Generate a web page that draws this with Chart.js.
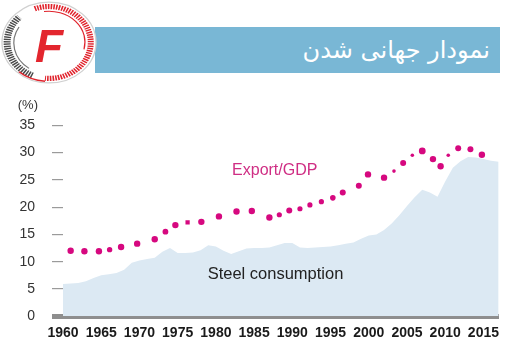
<!DOCTYPE html>
<html>
<head>
<meta charset="utf-8">
<script src="https://cdn.jsdelivr.net/npm/chart.js@4.4.1/dist/chart.umd.min.js"></script>
<style>
  html, body { margin: 0; padding: 0; background: #ffffff; }
  #wrap { position: relative; width: 513px; height: 363px; overflow: hidden; }
  #c { position: absolute; left: 0; top: 0; }
  #banner { position: absolute; left: 95px; top: 27px; width: 405px; height: 46px; background: #79b7d5; }
  #title { position: absolute; right: 23px; top: 27px; height: 46px; line-height: 46px; color: #ffffff;
           font-family: "DejaVu Sans", sans-serif; font-size: 24px; direction: rtl; white-space: nowrap; }
  #logo { position: absolute; left: 0; top: 0; }
</style>
</head>
<body>
<div id="wrap">
  <canvas id="c" width="513" height="363"></canvas>
  <div id="banner"></div>
  <div id="title">نمودار جهانی شدن</div>
  <svg id="logo" width="100" height="86" viewBox="0 0 100 86">
    <g transform="translate(49,42.5) scale(1,0.86)">
      <circle cx="0" cy="0" r="47" fill="#ffffff" stroke="#d0d0d0" stroke-width="1.3"/>
      <path d="M -16.6 38.4 A 41.8 41.8 0 0 1 -29.6 -29.6" fill="none" stroke="#4a4a4a" stroke-width="7" stroke-dasharray="1.6 1.1"/>
      <path d="M -14.3 -39.3 A 41.8 41.8 0 1 1 -4 41.6" fill="none" stroke="#e0232c" stroke-width="6" stroke-dasharray="1.6 1.1"/>
      <path d="M -4 45 A 45 45 0 0 1 -30 34" fill="none" stroke="#e0232c" stroke-width="1.6"/>
      <path d="M -20 30 A 36 36 0 0 1 -30 -18" fill="none" stroke="#777777" stroke-width="1.2"/>
      <path d="M -5 -36 A 36 36 0 0 1 35 8" fill="none" stroke="#e0232c" stroke-width="1.2"/>
    </g>
    <text x="49" y="62" text-anchor="middle" font-family="Liberation Sans, Arial, sans-serif" font-weight="bold" font-style="italic" font-size="46" fill="#e3262e">F</text>
  </svg>
</div>
<script>
// ---- data ----
const xTickLabels = [1960, 1965, 1970, 1975, 1980, 1985, 1990, 1995, 2000, 2005, 2010, 2015];
const yTickLabels = [0, 5, 10, 15, 20, 25, 30, 35];

const steelYears = [1960,1961,1962,1963,1964,1965,1966,1967,1968,1969,1970,1971,1972,1973,1974,1975,1976,1977,1978,1979,
  1980,1981,1982,1983,1984,1985,1986,1987,1988,1989,1990,1991,1992,1993,1994,1995,1996,1997,1998,1999,
  2000,2001,2002,2003,2004,2005,2006,2007,2008,2009,2010,2011,2012,2013,2014,2015,2016,2017];
const steelConsumption = [5.9,6.0,6.1,6.4,7.0,7.5,7.7,7.9,8.5,9.8,10.2,10.5,10.7,11.8,12.5,11.6,11.6,11.7,12.1,13.0,
  12.8,12.0,11.4,11.9,12.4,12.5,12.5,12.6,13.0,13.4,13.4,12.6,12.5,12.6,12.7,12.8,13.0,13.3,13.5,14.2,
  14.8,15.0,15.8,17.0,18.5,20.2,21.8,23.2,22.7,21.9,24.7,27.2,28.4,29.2,29.1,28.8,28.5,28.3];

const exportYears = [1961.0,1962.8,1964.7,1966.1,1967.6,1969.7,1972.0,1973.4,1974.7,1976.3,1978.1,1980.4,1982.7,1984.7,
  1987.0,1988.3,1989.6,1991.0,1992.3,1993.8,1995.3,1996.6,1998.7,1999.9,2002.0,2003.3,2004.5,2005.7,2007.0,2008.4,
  2009.4,2010.4,2011.7,2013.3,2014.8];
const exportGDP = [12.0,11.9,11.9,12.2,12.7,13.3,14.1,15.5,16.7,17.2,17.3,18.3,19.2,19.3,
  18.1,18.6,19.4,19.7,20.4,21.0,21.7,22.7,23.9,26.0,25.4,26.6,28.1,29.5,30.3,28.8,
  27.5,29.5,30.8,30.6,29.6];

// styling (not data)
const dotRadius = [3.2,3.2,3.2,2.7,3.2,3.2,3.2,2.9,3.2,3,3.2,3.2,3.2,3.2,
  3.2,2.6,3,2.6,2.6,2.6,2.8,3,3,3.2,3.2,1.8,3,1.8,3.4,3.2,
  3.2,1.8,3,3,3.2];
const dotStyle = exportYears.map((_, i) => i === 9 ? 'rect' : 'circle');

const MAGENTA = '#d6087f';
const AREA = '#dce9f3';

const textPlugin = {
  id: 'extraText',
  afterDatasetsDraw(chart) {
    if ('letterSpacing' in chart.ctx) chart.ctx.letterSpacing = '-1.4px';
  },
  afterDraw(chart) {
    const { ctx, scales: { x, y } } = chart;
    if ('letterSpacing' in ctx) ctx.letterSpacing = '0px';
    ctx.save();
    ctx.textBaseline = 'middle';
    ctx.font = '13px "Liberation Sans", Arial, sans-serif';
    ctx.fillStyle = '#333333';
    ctx.textAlign = 'right';
    ctx.fillText('(%)', y.right - 25, y.getPixelForValue(35) - 20);
    ctx.textAlign = 'center';
    ctx.font = '16px "Liberation Sans", Arial, sans-serif';
    ctx.fillStyle = '#cf2e84';
    ctx.fillText('Export/GDP', x.getPixelForValue(1987.7), y.getPixelForValue(26.7));
    ctx.font = '16.5px "Liberation Sans", Arial, sans-serif';
    ctx.fillStyle = '#222222';
    ctx.fillText('Steel consumption', x.getPixelForValue(1987.8), y.getPixelForValue(7.6));
    ctx.restore();
  }
};

new Chart(document.getElementById('c'), {
  type: 'scatter',
  data: {
    datasets: [
      {
        label: 'Export/GDP',
        data: exportYears.map((yr, i) => ({ x: yr, y: exportGDP[i] })),
        backgroundColor: MAGENTA,
        borderColor: MAGENTA,
        borderWidth: 0,
        pointRadius: (c) => dotRadius[c.dataIndex],
        pointStyle: (c) => dotStyle[c.dataIndex],
        showLine: false,
        order: 1
      },
      {
        label: 'Steel consumption',
        data: steelYears.map((yr, i) => ({ x: yr, y: steelConsumption[i] })),
        showLine: true,
        fill: 'origin',
        backgroundColor: AREA,
        borderColor: AREA,
        borderWidth: 0,
        pointRadius: 0,
        tension: 0,
        order: 2
      }
    ]
  },
  options: {
    responsive: false,
    animation: false,
    devicePixelRatio: 1,
    layout: { padding: { left: 0, right: 14.3, top: 125.3, bottom: 12 } },
    plugins: { legend: { display: false }, tooltip: { enabled: false } },
    scales: {
      x: {
        type: 'linear',
        min: 1960,
        max: 2017,
        z: 1,
        afterBuildTicks: (s) => { s.ticks = xTickLabels.map(v => ({ value: v })); },
        grid: { display: false, drawTicks: false },
        border: { display: true, color: '#8e8e8e', width: 5 },
        ticks: {
          padding: 9,
          autoSkip: false,
          maxRotation: 0,
          color: '#1a1a1a',
          font: { family: '"Liberation Sans", Arial, sans-serif', size: 14, weight: 'bold' },
          callback: (v) => String(v)
        }
      },
      y: {
        min: 0,
        max: 35,
        afterBuildTicks: (s) => { s.ticks = yTickLabels.map(v => ({ value: v })); },
        afterFit: (s) => { s.width = 63; },
        grid: {
          drawOnChartArea: false,
          drawTicks: true,
          tickLength: 11,
          color: (c) => c.tick && c.tick.value === 0 ? '#8e8e8e' : '#9a9a9a',
          lineWidth: (c) => c.tick && c.tick.value === 0 ? 5 : 1.2
        },
        border: { display: false },
        ticks: {
          padding: 17,
          color: '#333333',
          font: { family: '"Liberation Sans", Arial, sans-serif', size: 14 },
          callback: (v) => String(v)
        }
      }
    }
  },
  plugins: [textPlugin]
});
</script>
</body>
</html>
